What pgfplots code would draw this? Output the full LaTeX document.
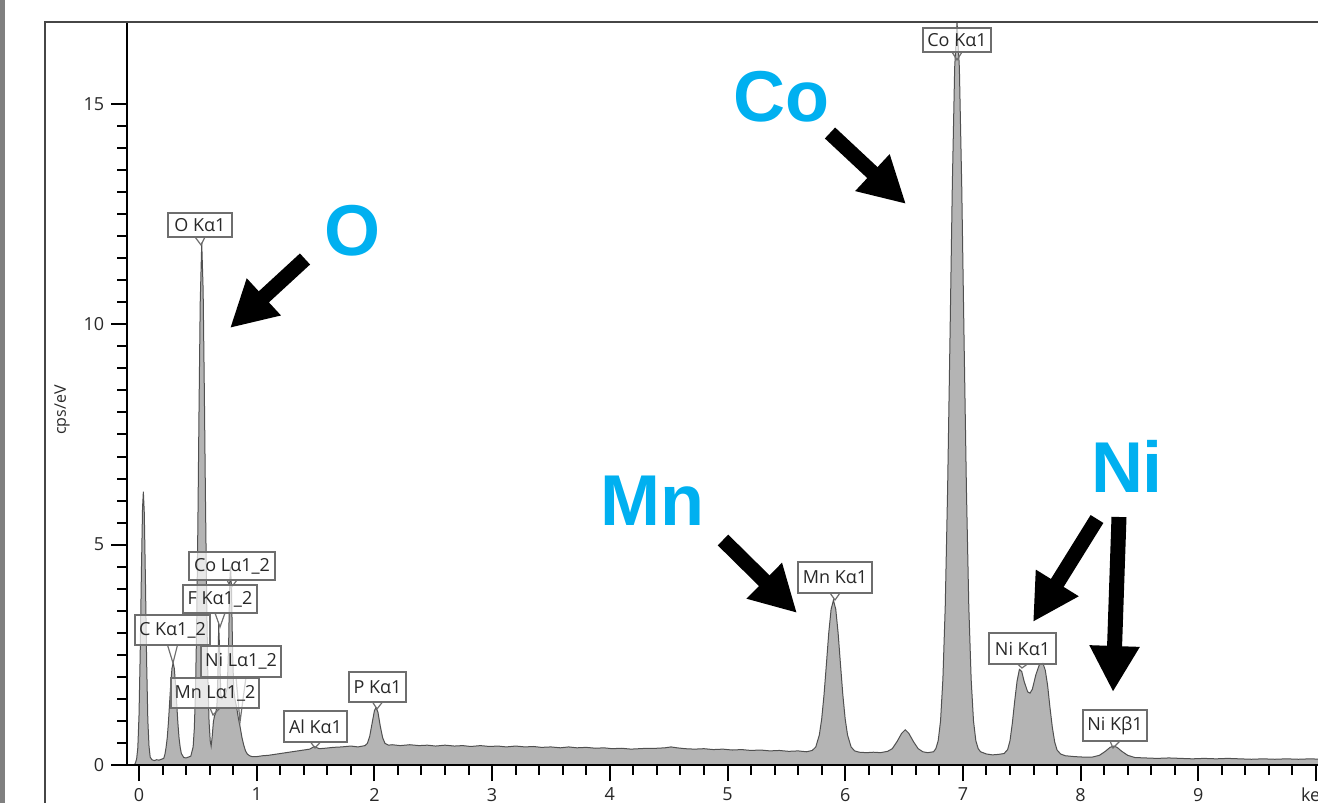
\documentclass[border=0pt]{standalone}
\usepackage{fontspec}
\setmainfont{Open Sans}
\newfontfamily\arialfont{Liberation Sans}
\usepackage{pgfplots}
\pgfplotsset{compat=1.18}
\usepackage{pgfplotstable}
\usetikzlibrary{arrows.meta}
\definecolor{cyanlab}{RGB}{0,176,240}
\definecolor{specfill}{RGB}{180,180,180}
\definecolor{specline}{RGB}{80,80,80}
\definecolor{framegray}{RGB}{70,70,70}
\definecolor{boxgray}{RGB}{110,110,110}
\definecolor{txtgray}{RGB}{40,40,40}
\definecolor{stripgray}{RGB}{128,128,128}

\pgfplotstableread{
x y
-0.10 0.00
-0.04 0.00
-0.03 0.05
-0.02 0.14
-0.01 0.39
0.00 1.12
0.01 2.50
0.02 4.32
0.03 5.83
0.037 6.20
0.045 5.72
0.055 4.14
0.065 2.33
0.075 1.02
0.085 0.43
0.095 0.18
0.11 0.12
0.13 0.10
0.15 0.12
0.17 0.11
0.19 0.13
0.21 0.15
0.22 0.24
0.23 0.40
0.24 0.62
0.25 0.97
0.26 1.41
0.27 1.85
0.28 2.19
0.29 2.32
0.30 2.19
0.31 1.85
0.32 1.41
0.33 0.97
0.34 0.62
0.35 0.40
0.36 0.26
0.38 0.17
0.40 0.16
0.42 0.18
0.44 0.20
0.46 0.41
0.47 0.83
0.48 1.68
0.49 3.18
0.50 5.40
0.51 8.08
0.52 10.48
0.533 11.85
0.545 10.77
0.555 8.52
0.565 5.97
0.575 3.74
0.585 2.00
0.595 1.00
0.605 0.55
0.613 0.43
0.622 0.65
0.632 0.98
0.642 1.12
0.652 1.18
0.662 1.35
0.670 2.00
0.677 3.20
0.685 2.60
0.695 1.60
0.705 1.50
0.72 1.55
0.735 1.60
0.750 1.75
0.762 2.80
0.770 4.10
0.778 4.50
0.786 4.00
0.795 2.60
0.805 1.70
0.815 1.50
0.830 1.30
0.845 1.05
0.860 0.85
0.875 0.62
0.89 0.45
0.905 0.32
0.92 0.25
0.94 0.21
0.96 0.19
1.00 0.19
1.05 0.21
1.10 0.22
1.15 0.24
1.20 0.26
1.25 0.28
1.30 0.30
1.35 0.32
1.40 0.34
1.45 0.36
1.49 0.42
1.53 0.37
1.58 0.38
1.65 0.40
1.72 0.41
1.80 0.43
1.86 0.41
1.92 0.44
1.94 0.49
1.96 0.65
1.98 0.94
2.00 1.23
2.013 1.30
2.03 1.20
2.05 0.88
2.07 0.62
2.09 0.49
2.12 0.45
2.15 0.46
2.22 0.44
2.30 0.46
2.38 0.44
2.45 0.45
2.52 0.43
2.60 0.45
2.68 0.43
2.75 0.44
2.82 0.42
2.90 0.44
2.98 0.42
3.05 0.43
3.12 0.41
3.20 0.43
3.28 0.41
3.35 0.42
3.42 0.40
3.50 0.41
3.58 0.39
3.65 0.41
3.72 0.39
3.80 0.40
3.88 0.38
3.95 0.39
4.02 0.37
4.10 0.38
4.18 0.36
4.25 0.37
4.32 0.38
4.40 0.38
4.47 0.39
4.52 0.41
4.57 0.39
4.64 0.37
4.72 0.36
4.80 0.37
4.88 0.35
4.96 0.36
5.04 0.34
5.12 0.35
5.20 0.33
5.28 0.34
5.36 0.32
5.44 0.33
5.52 0.31
5.60 0.32
5.67 0.30
5.72 0.33
5.75 0.41
5.78 0.68
5.80 1.04
5.82 1.59
5.84 2.28
5.86 2.99
5.88 3.53
5.90 3.74
5.92 3.53
5.94 2.99
5.96 2.28
5.98 1.59
6.00 1.04
6.02 0.68
6.05 0.41
6.08 0.32
6.12 0.29
6.18 0.28
6.24 0.29
6.30 0.28
6.36 0.31
6.40 0.37
6.44 0.53
6.48 0.72
6.51 0.80
6.54 0.72
6.58 0.53
6.62 0.37
6.66 0.30
6.70 0.28
6.75 0.30
6.77 0.37
6.79 0.55
6.81 1.00
6.83 1.95
6.85 3.61
6.87 6.25
6.89 9.63
6.91 13.15
6.93 15.82
6.95 16.87
6.97 15.82
6.99 13.15
7.01 9.63
7.03 6.25
7.05 3.61
7.07 1.95
7.09 1.00
7.11 0.55
7.13 0.37
7.15 0.30
7.20 0.25
7.25 0.23
7.30 0.24
7.35 0.26
7.38 0.35
7.40 0.55
7.42 0.95
7.44 1.45
7.46 1.90
7.48 2.17
7.50 2.12
7.52 1.90
7.55 1.66
7.57 1.63
7.59 1.72
7.62 2.05
7.65 2.28
7.68 2.31
7.70 2.15
7.72 1.80
7.74 1.30
7.76 0.85
7.78 0.52
7.80 0.34
7.83 0.25
7.87 0.21
7.95 0.19
8.02 0.18
8.10 0.18
8.16 0.22
8.21 0.31
8.25 0.40
8.28 0.43
8.31 0.40
8.35 0.31
8.40 0.22
8.46 0.17
8.55 0.16
8.65 0.15
8.75 0.16
8.85 0.15
8.95 0.14
9.05 0.15
9.15 0.14
9.25 0.15
9.35 0.14
9.45 0.13
9.55 0.14
9.65 0.13
9.75 0.14
9.85 0.13
9.95 0.14
10.05 0.13
}\spectrum

\newcommand{\lbox}[7]{%
  \draw[boxgray, line width=0.6pt, fill=white, fill opacity=0.7] (#1,#2) rectangle (#3,#4);
  \node[text=txtgray, inner sep=0pt] at ({(#1+#3)/2},{(#2+#4)/2}) {#7};
  \draw[boxgray, line width=0.6pt] ({(#1+#3)/2-5},#4) -- (#5,#6) -- ({(#1+#3)/2+5},#4);
}

\begin{document}
\begin{tikzpicture}[font=\fontsize{9pt}{10pt}\selectfont]
\path[use as bounding box] (0,0) rectangle (659pt,401.5pt);
\fill[stripgray] (0,0) rectangle (2.5pt,401.5pt);
\begin{axis}[
  at={(63.615pt,19pt)}, anchor=south west,
  x=58.85pt, y=22.035pt,
  xmin=-0.1, xmax=10.017, ymin=0, ymax=16.86,
  axis x line*=bottom, axis y line*=left,
  axis line style={line width=1.2pt, black, -},
  axis on top=true,
  tick align=outside,
  major tick length=8pt, minor tick length=5pt,
  every tick/.style={line width=1pt, black},
  xtick={0,1,2,3,4,5,6,7,8,9,10},
  xticklabels={0,1,2,3,4,5,6,7,8,9,keV},
  ytick={0,5,10,15},
  yticklabels={0,5,10,15},
  minor x tick num=4,
  minor y tick num=9,
  /pgf/number format/assume math mode=true,
  ticklabel style={font=\fontsize{9pt}{10pt}\selectfont, text=txtgray},
]
\addplot[fill=specfill, draw=specline, line width=0.5pt] table[x=x,y=y]{\spectrum} \closedcycle;
\end{axis}
\begin{scope}[x=0.5pt, y=-0.5pt, shift={(0,401.5pt)}]
  \draw[framegray, line width=1pt] (45,803) -- (45,22) -- (1318,22);
  \node[rotate=90, text=txtgray, font=\fontsize{8pt}{9pt}\selectfont] at (62,410) {cps/eV};
  % peak labels
  \lbox{168}{213}{232}{237}{201}{245}{O Kα1}
  \lbox{923}{28}{991}{52}{957}{60}{Co Kα1}
  \lbox{189}{552}{275}{580}{231}{588}{Co Lα1\_2}
  \lbox{183}{585}{257}{613}{220}{627}{F Kα1\_2}
  \lbox{135}{615}{210}{645}{173}{663}{C Kα1\_2}
  \lbox{201}{646}{281}{677}{240}{722}{Ni Lα1\_2}
  \lbox{171}{678}{259}{708}{213}{715}{Mn Lα1\_2}
  \lbox{284}{711}{347}{742}{315}{748}{Al Kα1}
  \lbox{349}{672}{406}{702}{377}{709}{P Kα1}
  \lbox{798}{562}{872}{593}{835}{600}{Mn Kα1}
  \lbox{989}{633}{1056}{664}{1022}{668}{Ni Kα1}
  \lbox{1083}{710}{1147}{741}{1113}{748}{Ni Kβ1}
  % arrows
  \begin{scope}[line width=7.5pt, -{Triangle[length=23pt, width=23.5pt]}]
    \draw (305,259) -- (230,328);
    \draw (830,133) -- (906,204);
    \draw (723,540) -- (797,613);
    \draw (1097,519) -- (1033,622);
    \draw (1119,517) -- (1113,692);
  \end{scope}
  % element labels
  \begin{scope}[text=cyanlab, font=\arialfont\bfseries\fontsize{36pt}{36pt}\selectfont, inner sep=0pt, anchor=base]
    \node at (352,256) {O};
    \node at (781,122) {Co};
    \node at (652,526) {Mn};
    \node at (1127,493) {Ni};
  \end{scope}
\end{scope}
\end{tikzpicture}
\end{document}
